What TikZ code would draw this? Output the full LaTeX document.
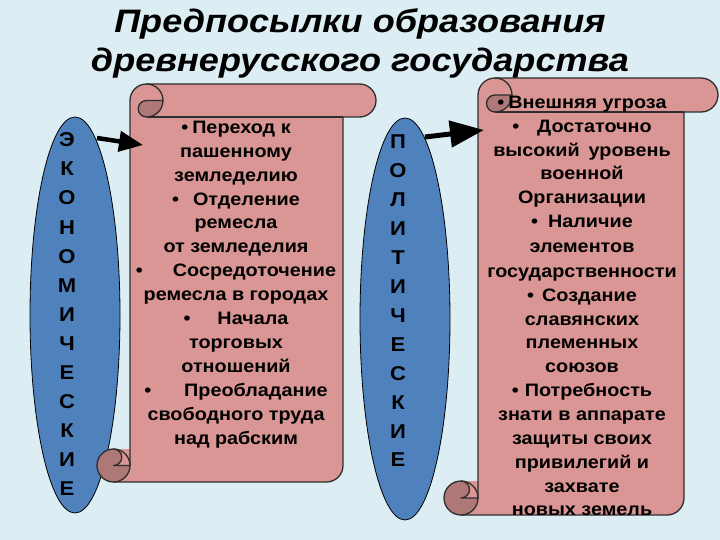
\documentclass[tikz,border=0pt]{standalone}
\usepackage{fontspec}
\setmainfont{Liberation Sans}[FakeStretch=1.1]
\newfontfamily\titlefont{Liberation Sans}[FakeStretch=1.11]
\usetikzlibrary{arrows.meta,shapes.geometric}
\definecolor{bg}{HTML}{DCEEF4}
\definecolor{pinkfill}{HTML}{D99694}
\definecolor{pinkdark}{HTML}{AE7877}
\definecolor{outl}{HTML}{2E2E2E}
\definecolor{ellblue}{HTML}{4F81BD}

\newcommand\myvscroll[5]{%
 \begin{scope}[shift={(#1,#2)}]
  \pgfmathsetmacro\W{#3-#1}
  \pgfmathsetmacro\H{#4-#2}
  \pgfmathsetmacro\c{#5}
  \pgfmathsetmacro\cc{#5/2}
  \pgfmathsetmacro\cq{#5/4}
  \pgfmathsetmacro\xthree{1.5*#5}
  \pgfmathsetmacro\xfour{2*#5}
  \pgfmathsetmacro\xsix{\W-#5}
  \pgfmathsetmacro\xseven{\W-#5/2}
  \pgfmathsetmacro\ythree{\H-#5}
  \pgfmathsetmacro\yfour{\H-#5/2}
  \fill[scrollfill] (\cc,\H) arc[start angle=90,delta angle=-90,radius=\cc] -- (\cc,\yfour)
    arc[start angle=90,delta angle=180,radius=\cq] -- (\c,\ythree) -- (\c,\cc)
    arc[start angle=180,delta angle=90,radius=\cc] -- (\xseven,0)
    arc[start angle=270,delta angle=180,radius=\cc] -- (\xsix,\c) -- (\xsix,\yfour)
    arc[start angle=0,delta angle=90,radius=\cc] -- cycle;
  \fill[scrolldark] (\xfour,\cc) arc[start angle=0,delta angle=90,radius=\cc]
    arc[start angle=90,delta angle=180,radius=\cq] -- cycle;
  \fill[scrolldark] (\cc,\yfour) circle[radius=\cc];
  \fill[scrollfill] (\cc,\ythree) arc[start angle=270,delta angle=180,radius=\cq] -- (\c,\yfour) -- (\c,\ythree) -- cycle;
  \draw[scrollline] (\c,\yfour) -- (\c,\cc) arc[start angle=180,delta angle=90,radius=\cc] -- (\xseven,0)
    arc[start angle=270,delta angle=180,radius=\cc] -- (\xsix,\c) -- (\xsix,\yfour)
    arc[start angle=0,delta angle=90,radius=\cc] -- (\cc,\H);
  \draw[scrollline] (\cc,\yfour) circle[radius=\cc];
  \draw[scrollline] (\cc,\ythree) arc[start angle=270,delta angle=180,radius=\cq] -- (\c,\yfour);
  \draw[scrollline] (\xthree,0) arc[start angle=270,delta angle=180,radius=\cc]
    arc[start angle=90,delta angle=180,radius=\cq] -- (\xfour,\cc);
  \draw[scrollline] (\xsix,\c) -- (\xthree,\c);
 \end{scope}}

\begin{document}
\begin{tikzpicture}[x=1pt,y=-1pt,
  scrollfill/.style={fill=pinkfill},
  scrolldark/.style={fill=pinkdark},
  scrollline/.style={draw=outl,line width=1.3pt,line join=round},
  ell/.style={ellipse,draw=black,line width=0.8pt,fill=ellblue,inner sep=0pt},
  bodytext/.style={font=\fontsize{18}{22}\selectfont\bfseries,anchor=base,inner sep=0pt,text=black},
  letter/.style={font=\fontsize{20}{24}\selectfont\bfseries,anchor=base,inner sep=0pt,text=black},
  titletext/.style={font=\titlefont\fontsize{32.5}{40}\selectfont\bfseries\itshape,anchor=base,inner sep=0pt,text=black},
  bigarrow/.style={line width=4.5pt,draw=black}]
\fill[bg] (0,0) rectangle (720,540);
\useasboundingbox (0,0) rectangle (720,540);

% title
\node[titletext] (t1) at (360,33) {Предпосылки образования};
\node[titletext] (t2) at (360,72) {древнерусского государства};

% ellipses
\node[ell,minimum width=90pt,minimum height=396pt] (econ) at (75,315) {};
\node[ell,minimum width=90pt,minimum height=402pt] (polit) at (405,319) {};

% scrolls
\myvscroll{97}{84}{376}{482}{33}
\myvscroll{444}{78}{718}{515}{34}

% letters
\foreach \L [count=\i] in {Э,К,О,Н,О,М,И,Ч,Е,С,К,И,Е}
  \node[letter] (e\i) at ({67},{147+29*(\i-1)}) {\L};
\foreach \L [count=\i] in {П,О,Л,И,Т,И,Ч,Е,С,К,И,Е}
  \node[letter] (p\i) at ({398},{149+28.9*(\i-1)}) {\L};

% left scroll text
\foreach \yy/\txt [count=\i] in {
  128/{•\hspace{4pt}Переход к},
  152/{пашенному},
  176/{земледелию},
  200/{•\hspace{14pt}Отделение},
  223/{ремесла},
  246/{от земледелия},
  270/{•\hspace{30pt}Сосредоточение},
  294/{ремесла в городах},
  318/{•\hspace{27pt}Начала},
  342/{торговых},
  366/{отношений},
  390/{•\hspace{33pt}Преобладание},
  414/{свободного труда},
  438/{над рабским}}
  \node[bodytext] (l\i) at ({236},{\yy+6}) {\txt};

% right scroll text
\foreach \yy/\txt [count=\i] in {
  103/{•\hspace{4pt}Внешняя угроза},
  127/{•\hspace{18pt}Достаточно},
  151/{высокий\hspace{9pt}уровень},
  174/{военной},
  198/{Организации},
  222/{•\hspace{10pt}Наличие},
  246/{элементов},
  271/{государственности},
  295/{•\hspace{8pt}Создание},
  319/{славянских},
  342/{племенных},
  366/{союзов},
  390/{•\hspace{6pt}Потребность},
  414/{знати в аппарате},
  438/{защиты своих},
  462/{привилегий и},
  486/{захвате},
  509/{новых земель}}
  \node[bodytext] (r\i) at ({582},{\yy+6}) {\txt};

% arrows
\coordinate (a1s) at (97,138);
\coordinate (a1e) at (143,145);
\coordinate (a2s) at (425,137);
\coordinate (a2e) at (484,130);
\draw[bigarrow,-{Triangle[length=24pt,width=20pt]}] (a1s) -- (a1e);
\draw[bigarrow,line width=5pt,-{Triangle[length=34pt,width=26pt]}] (a2s) -- (a2e);
\end{tikzpicture}
\end{document}
